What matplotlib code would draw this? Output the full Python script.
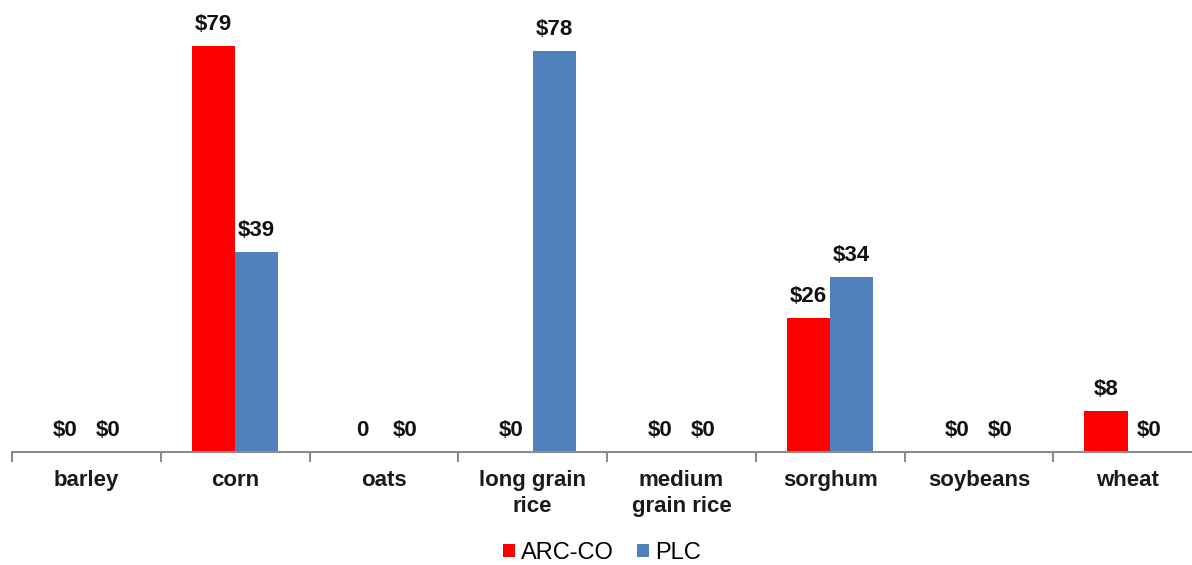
import numpy as np
import matplotlib.pyplot as plt
from matplotlib import font_manager

categories = ['barley', 'corn', 'oats', 'long grain\nrice', 'medium\ngrain rice',
              'sorghum', 'soybeans', 'wheat']
arc_co = [0, 79, 0, 0, 0, 26, 0, 8]
plc = [0, 39, 0, 78, 0, 34, 0, 0]
arc_labels = ['$0', '$79', '0', '$0', '$0', '$26', '$0', '$8']
plc_labels = ['$0', '$39', '$0', '$78', '$0', '$34', '$0', '$0']

plt.rcParams['font.family'] = ['Liberation Sans', 'DejaVu Sans']

# narrow font for the value labels if we have one
names = {f.name for f in font_manager.fontManager.ttflist}
narrow = 'Liberation Sans Narrow' if 'Liberation Sans Narrow' in names else None

fig = plt.figure(figsize=(11.92, 5.65), dpi=100)
ax = fig.add_axes([12/1192, 1 - 452/565, 1190/1192, 452/565])

x = np.arange(len(categories))
w = 0.29
b1 = ax.bar(x - w/2, arc_co, w, color='#ff0000', label='ARC-CO')
b2 = ax.bar(x + w/2, plc, w, color='#4f81bd', label='PLC')

if narrow:
    lab_font = dict(fontsize=16, fontweight='bold', color='#111111',
                    family=[narrow, 'DejaVu Sans'])
else:
    lab_font = dict(fontsize=16, fontweight='bold', color='#111111')
for bars, labs in ((b1, arc_labels), (b2, plc_labels)):
    for bar, lab in zip(bars, labs):
        ax.annotate(lab, (bar.get_x() + bar.get_width()/2, bar.get_height()),
                    xytext=(0, 8), textcoords='offset points',
                    ha='center', va='bottom', **lab_font)

ax.set_xlim(-0.5, len(categories) - 0.5)
ax.set_ylim(0, 88)
ax.set_yticks([])
for s in ('top', 'right', 'left'):
    ax.spines[s].set_visible(False)
ax.spines['bottom'].set_color('#8c8c8c')
ax.spines['bottom'].set_linewidth(1.5)

ax.set_xticks(np.arange(len(categories) + 1) - 0.5)
ax.set_xticklabels([])
ax.tick_params(axis='x', length=7, width=1.5, color='#8c8c8c')
ax.set_xticks(x, minor=True)
ax.set_xticklabels(categories, minor=True, fontsize=16, fontweight='bold',
                   color='#1a1a1a', linespacing=1.3, va='top')
ax.tick_params(axis='x', which='minor', length=0, pad=13)

fig.legend(handles=[b1, b2], loc='center', bbox_to_anchor=(0.505, 1 - 553/565),
           ncol=2, frameon=False, fontsize=17, handlelength=0.5,
           handleheight=0.5, handletextpad=0.25, columnspacing=1.0)

fig.savefig('out.png', dpi=100)
